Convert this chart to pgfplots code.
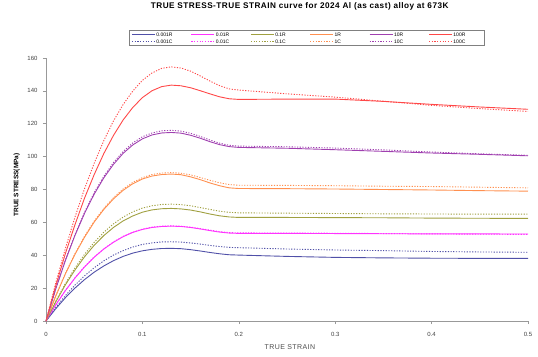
\documentclass[border=0pt]{standalone}
\usepackage{pgfplots}
\usepackage{pgfplotstable}
\pgfplotsset{compat=1.18}
\usepackage{fontspec}
\setmainfont{Liberation Sans}
\definecolor{cA}{HTML}{5050A8}
\definecolor{cB}{HTML}{FF33FF}
\definecolor{cC}{HTML}{A0A040}
\definecolor{cD}{HTML}{FF9050}
\definecolor{cE}{HTML}{A040B0}
\definecolor{cF}{HTML}{FF4848}
\pgfplotstableread{
x aR bR cR dR eR fR aC bC cC dC eC fC
0 0 0 0 0 0 0 0 0 0 0 0 0
0.01 7.4 9.7 11.5 15.0 19.3 21.2 8.1 9.7 11.9 15.2 19.5 22.9
0.02 14.1 18.4 21.9 28.5 36.6 40.8 15.4 18.5 22.7 28.8 37.0 43.9
0.03 20.0 26.1 31.0 40.5 52.0 58.5 21.8 26.2 32.2 40.9 52.5 63.1
0.04 25.2 32.9 39.1 51.0 65.5 74.8 27.5 33.1 40.6 51.6 66.2 80.5
0.05 29.7 38.8 46.1 60.2 77.2 89.1 32.4 39.0 47.9 60.8 78.1 96.0
0.06 33.5 43.8 52.0 67.9 87.1 101.9 36.6 43.9 54.0 68.5 88.0 109.8
0.07 36.7 47.9 56.9 74.3 95.3 112.9 40.1 48.1 59.1 75.0 96.4 121.7
0.08 39.3 51.3 60.9 79.5 102.0 122.3 42.8 51.5 63.2 80.3 103.1 131.7
0.09 41.3 53.9 63.9 83.5 107.1 129.9 45.0 54.0 66.4 84.3 108.3 139.9
0.10 42.7 55.7 66.2 86.4 110.8 135.9 46.6 55.9 68.7 87.2 112.1 146.4
0.11 43.6 56.9 67.6 88.2 113.2 140.1 47.5 57.1 70.1 89.1 114.4 150.9
0.12 44.1 57.5 68.3 89.1 114.4 142.6 48.1 57.7 70.9 90.0 115.7 153.7
0.13 44.2 57.7 68.5 89.4 114.7 143.5 48.2 57.9 71.1 90.3 116.0 154.6
0.14 44.0 57.5 68.2 89.0 114.3 143.1 48.0 57.7 70.8 89.9 115.5 153.9
0.15 43.4 56.9 67.5 87.7 113.0 141.9 47.5 57.1 70.1 88.9 114.2 152.0
0.16 42.6 56.0 66.4 86.0 111.2 140.1 46.8 56.2 69.0 87.3 112.3 149.1
0.17 41.7 55.0 65.1 84.0 109.1 138.2 46.0 55.3 67.9 85.6 110.1 146.0
0.18 40.9 54.1 64.0 82.3 107.3 136.4 45.3 54.4 66.8 84.1 108.2 143.2
0.19 40.3 53.5 63.3 81.0 106.1 135.2 44.8 53.8 66.1 83.0 106.9 141.2
0.20 40.1 53.3 63.0 80.6 105.6 134.8 44.6 53.6 65.8 82.6 106.4 140.5
0.25 39.3 53.3 63.0 80.5 105.1 135.0 43.8 53.5 65.6 82.5 106.0 138.2
0.30 38.7 53.2 62.9 80.3 104.2 135.0 43.2 53.4 65.4 82.3 105.2 136.2
0.35 38.4 53.1 62.8 80.0 103.2 133.6 42.8 53.2 65.2 82.0 104.1 133.7
0.40 38.2 53.0 62.6 79.7 102.2 131.8 42.3 53.0 65.1 81.8 102.8 131.2
0.45 38.1 53.0 62.5 79.3 101.4 130.2 42.0 52.8 65.0 81.4 101.7 129.2
0.50 38.1 52.9 62.4 79.0 100.5 128.8 41.8 52.7 65.0 81.0 100.8 127.5
}\data
\newcommand{\lb}[1]{\makebox[28pt][l]{#1}}
\begin{document}
\begin{tikzpicture}
\path[use as bounding box] (-46pt,-35pt) rectangle (492pt,321pt);
\begin{axis}[
  at={(0pt,0pt)}, anchor=south west,
  scale only axis, width=482pt, height=263pt,
  xmin=0, xmax=0.5, ymin=0, ymax=160,
  xtick={0,0.1,0.2,0.3,0.4,0.5},
  ytick={0,20,40,60,80,100,120,140,160},
  axis lines*=left,
  axis line style={gray!80, line width=0.8pt, -},
  tick style={gray!80, line width=0.6pt},
  tick align=outside, major tick length=3pt,
  ticklabel style={font=\fontsize{6}{7}\selectfont, text=black!75},
  /pgf/number format/assume math mode=true,
  xticklabel style={yshift=-5pt},
  yticklabel style={xshift=-2pt},
  xlabel={TRUE STRAIN},
  ylabel={\textbf{TRUE STRESS(MPa)}},
  xlabel style={font=\fontsize{7}{8}\selectfont\addfontfeatures{LetterSpace=6}, text=black!70, at={(axis description cs:0.506,0)}, anchor=center, yshift=-26pt},
  ylabel style={font=\fontsize{6.5}{7.5}\selectfont, at={(axis description cs:-0.061,0.517)}, anchor=center},
  title={\textbf{TRUE STRESS-TRUE STRAIN curve for 2024 Al (as cast) alloy at 673K}},
  title style={font=\fontsize{8.2}{9.2}\selectfont\addfontfeatures{LetterSpace=6}, at={(axis description cs:0.527,1)}, anchor=center, yshift=46pt},
  legend columns=6,
  legend style={at={(axis description cs:0.5415,1.076)}, anchor=center,
    draw=gray, line width=1.2pt, inner xsep=2pt, inner ysep=1pt,
    font=\fontsize{5}{5.5}\selectfont,
    nodes={inner sep=1pt, text height=4pt, text depth=0.5pt},
    /tikz/every odd column/.append style={column sep=0pt},
    /tikz/every even column/.append style={column sep=5.5pt}},
  legend image code/.code={\draw[#1] (0pt,0pt) -- (23pt,0pt);},
  every axis plot/.append style={line width=0.9pt},
]
\addplot[cA] table[x=x,y=aR]{\data};
\addlegendentry{\lb{0.001R}}
\addplot[cB] table[x=x,y=bR]{\data};
\addlegendentry{\lb{0.01R}}
\addplot[cC] table[x=x,y=cR]{\data};
\addlegendentry{\lb{0.1R}}
\addplot[cD] table[x=x,y=dR]{\data};
\addlegendentry{\lb{1R}}
\addplot[cE] table[x=x,y=eR]{\data};
\addlegendentry{\lb{10R}}
\addplot[cF] table[x=x,y=fR]{\data};
\addlegendentry{\lb{100R}}
\addplot[cA, dash pattern=on 1.2pt off 1.5pt] table[x=x,y=aC]{\data};
\addlegendentry{\lb{0.001C}}
\addplot[cB, dash pattern=on 1.2pt off 1.5pt] table[x=x,y=bC]{\data};
\addlegendentry{\lb{0.01C}}
\addplot[cC, dash pattern=on 1.2pt off 1.5pt] table[x=x,y=cC]{\data};
\addlegendentry{\lb{0.1C}}
\addplot[cD, dash pattern=on 1.2pt off 1.5pt] table[x=x,y=dC]{\data};
\addlegendentry{\lb{1C}}
\addplot[cE, dash pattern=on 1.2pt off 1.5pt] table[x=x,y=eC]{\data};
\addlegendentry{\lb{10C}}
\addplot[cF, dash pattern=on 1.2pt off 1.5pt] table[x=x,y=fC]{\data};
\addlegendentry{\lb{100C}}
\end{axis}
\end{tikzpicture}
\end{document}
